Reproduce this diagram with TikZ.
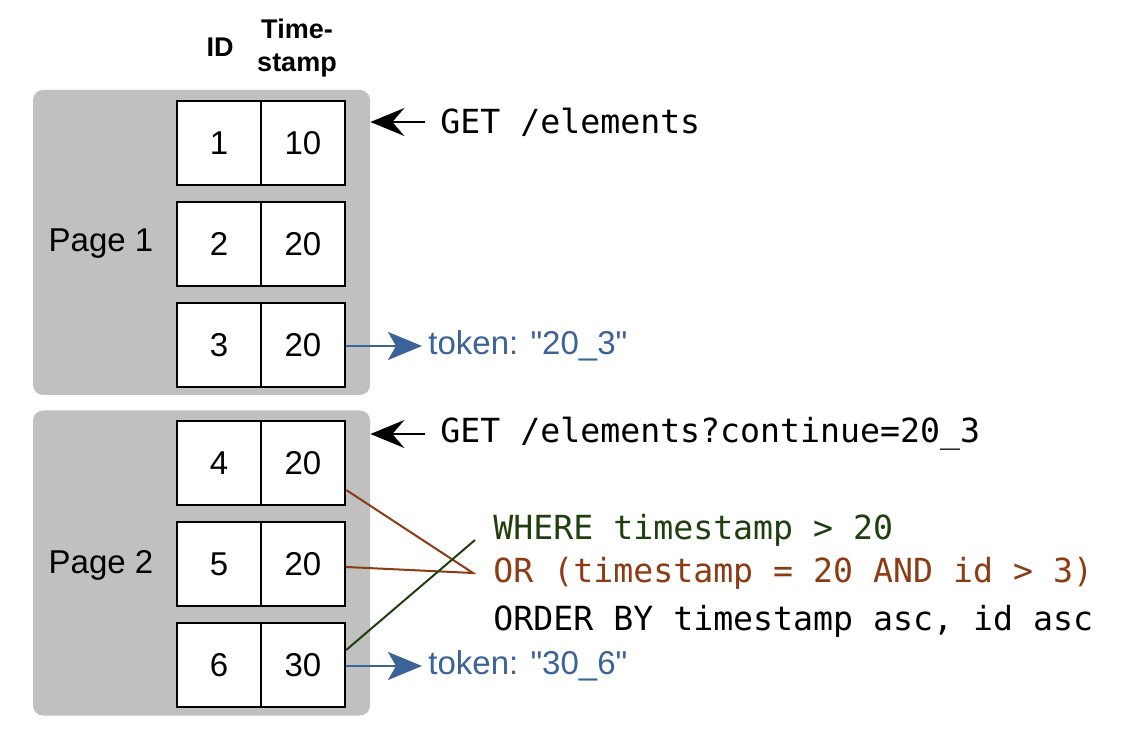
\documentclass[tikz,border=0pt]{standalone}
\usepackage{fontspec}
\setmainfont{Liberation Sans}
\newfontfamily\codefont{DejaVu Sans Mono}
\usetikzlibrary{arrows.meta, calc}
\definecolor{pagegray}{HTML}{C0C0C0}
\definecolor{tokblue}{HTML}{3C6399}
\definecolor{wheregreen}{HTML}{1E3F0E}
\definecolor{orbrown}{HTML}{8C3B14}
\tikzset{
  pagebox/.style = {fill=pagegray, rounded corners=5pt, minimum width=168.5pt, minimum height=152.5pt, inner sep=0pt},
  cell/.style = {draw, fill=white, line width=1.2pt, minimum width=42pt, minimum height=42pt, inner sep=0pt, font=\fontsize{16.5}{19}\selectfont},
  label/.style = {inner sep=0pt, font=\fontsize{16.5}{19}\selectfont},
  head/.style = {inner sep=0pt, align=center, font=\bfseries\fontsize{13.5}{16.5}\selectfont},
  code/.style = {anchor=west, inner sep=0pt, font=\codefont\fontsize{16.6}{20}\selectfont},
  token/.style = {anchor=west, inner sep=0pt, text=tokblue, font=\fontsize{16.5}{19}\selectfont},
  req/.style = {line width=1pt, -{Stealth[length=17pt, width=14pt, inset=6pt]}},
  resp/.style = {line width=1pt, tokblue, -{Stealth[length=17pt, width=14pt, inset=4pt]}}
}

\begin{document}
\begin{tikzpicture}[x=0.5pt, y=-0.5pt]
\useasboundingbox (0,0) rectangle (1124,742);

% pages
\node[pagebox] (page1) at (201.5,242.5) {};
\node[pagebox] (page2) at (201.5,563) {};
\node[label] (pname1) at (101,244) {Page 1};
\node[label] (pname2) at (101,565) {Page 2};

% column heads
\node[head] (hid) at (220,47) {ID};
\node[head] (hts) at (297,48) {Time-\\stamp};

% rows
\foreach \r/\y/\ts in {1/143/10, 2/244/20, 3/345/20, 4/463/20, 5/564/20, 6/665/30} {
  \node[cell] (id\r) at (219,\y) {\r};
  \node[cell] (ts\r) at (303,\y) {\ts};
}

% requests
\node[code] (get1) at (440,122) {GET /elements};
\node[code] (get2) at (440,434) {GET /elements?continue=20\_3};
\draw[req] ([xshift=-7.5pt]get1.west) -- (get1.west -| page1.east);
\draw[req] ([xshift=-7.5pt]get2.west) -- (get2.west -| page2.east);

% tokens
\node[token] (tok1) at (428,346) {token: \textquotedbl 20\_3\textquotedbl};
\node[token] (tok2) at (428,666) {token: \textquotedbl 30\_6\textquotedbl};
\draw[resp] (ts3.east |- tok1.west) -- ([xshift=-3pt]tok1.west);
\draw[resp] (ts6.east |- tok2.west) -- ([xshift=-3pt]tok2.west);

% query
\node[code, text=wheregreen] (where) at (493,530) {WHERE timestamp > 20};
\node[code, text=orbrown] (or) at (493,573) {OR (timestamp = 20 AND id > 3)};
\node[code] (order) at (493,621) {ORDER BY timestamp asc, id asc};
\coordinate (orpt) at ([xshift=-10pt]or.west);
\coordinate (wherept) at ([xshift=-9pt, yshift=-5pt]where.west);
\draw[orbrown, line width=1pt] ([yshift=-13.5pt]ts4.east) -- (orpt) -- ([yshift=-1.5pt]ts5.east);
\draw[wheregreen, line width=1pt] ([yshift=7.5pt]ts6.east) -- (wherept);
\end{tikzpicture}
\end{document}
